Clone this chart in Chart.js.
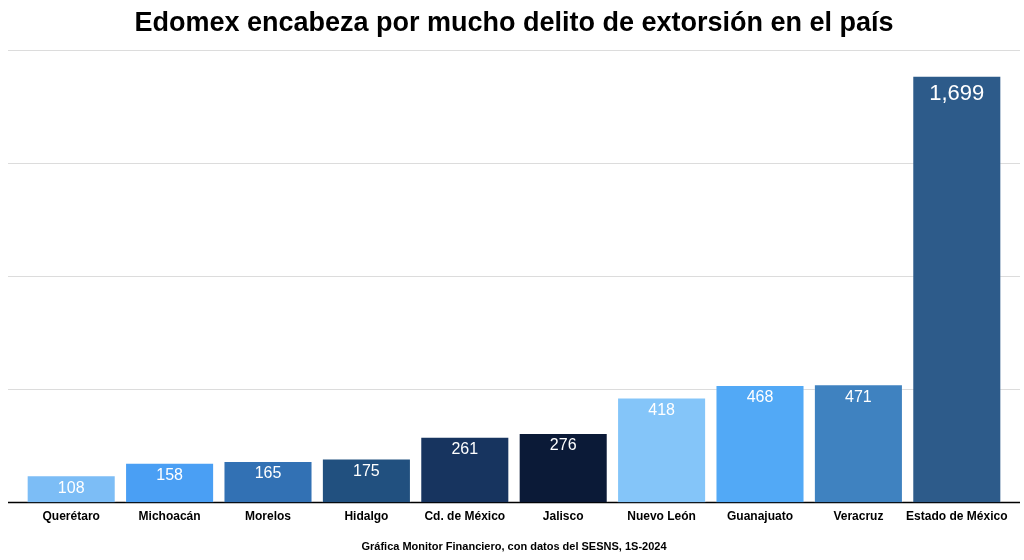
<!DOCTYPE html>
<html><head><meta charset="utf-8">
<script src="https://cdn.jsdelivr.net/npm/chart.js@4/dist/chart.umd.min.js"></script>
<style>html,body{margin:0;padding:0;background:#fff}#wrap{width:1024px;height:560px}</style>
</head><body><div id="wrap"><canvas id="c"></canvas></div>
<script>
const categories = ["Querétaro","Michoacán","Morelos","Hidalgo","Cd. de México","Jalisco","Nuevo León","Guanajuato","Veracruz","Estado de México"];
const values = [108,158,165,175,261,276,418,468,471,1699];
const barColors = ["#7cbdf6","#4a9ff4","#3271b4","#21507f","#17345f","#0b1a37","#84c5f9","#52a9f6","#3f82c0","#2d5b8a"];
const yTicks = [0,450,900,1350,1800];

const gridPlugin = {
  id:'gridExt',
  beforeDatasetsDraw(chart){
    const {ctx} = chart; const y = chart.scales.y;
    ctx.save();
    yTicks.forEach(v=>{
      const py = Math.round(y.getPixelForValue(v))+0.5;
      ctx.strokeStyle = v===0 ? '#000' : '#dcdcdc';
      ctx.lineWidth = v===0 ? 1.5 : 1.2;
      ctx.beginPath(); ctx.moveTo(8,py); ctx.lineTo(1020,py); ctx.stroke();
    });
    ctx.restore();
  }
};
const labelPlugin = {
  id:'vals',
  afterDatasetsDraw(chart){
    const {ctx} = chart; const meta = chart.getDatasetMeta(0);
    ctx.save(); ctx.fillStyle='#fff'; ctx.textAlign='center'; ctx.textBaseline='middle';
    meta.data.forEach((bar,i)=>{
      const big = values[i] > 1000;
      ctx.font = (big?'22px':'16px')+' "Liberation Sans", Arial, sans-serif';
      ctx.fillText(values[i].toLocaleString('en-US'), bar.x, bar.y + (big?18:13));
    });
    ctx.restore();
  }
};

new Chart(document.getElementById('c'),{
  type:'bar',
  data:{labels:categories,datasets:[{data:values,backgroundColor:barColors,borderColor:'rgba(255,255,255,0.25)',borderWidth:1,barPercentage:0.905,categoryPercentage:1}]},
  options:{
    responsive:true,maintainAspectRatio:false,animation:false,
    layout:{padding:{left:22,right:18,top:0,bottom:4}},
    plugins:{
      legend:{display:false},tooltip:{enabled:false},
      title:{display:true,text:'Edomex encabeza por mucho delito de extorsión en el país',color:'#000',font:{family:'"Liberation Sans", Arial, sans-serif',size:27,weight:'bold'},padding:{top:7,bottom:11}},
      subtitle:{display:true,position:'bottom',text:'Gráfica Monitor Financiero, con datos del SESNS, 1S-2024',color:'#000',font:{family:'"Liberation Sans", Arial, sans-serif',size:11,weight:'bold'},padding:{top:10,bottom:2}}
    },
    scales:{
      x:{grid:{display:false,drawTicks:false},border:{display:false},ticks:{color:'#000',padding:7,maxRotation:0,autoSkip:false,font:{family:'"Liberation Sans", Arial, sans-serif',size:12,weight:'bold'}}},
      y:{display:false,min:0,max:1800,ticks:{stepSize:450}}
    }
  },
  plugins:[gridPlugin,labelPlugin]
});
</script></body></html>
